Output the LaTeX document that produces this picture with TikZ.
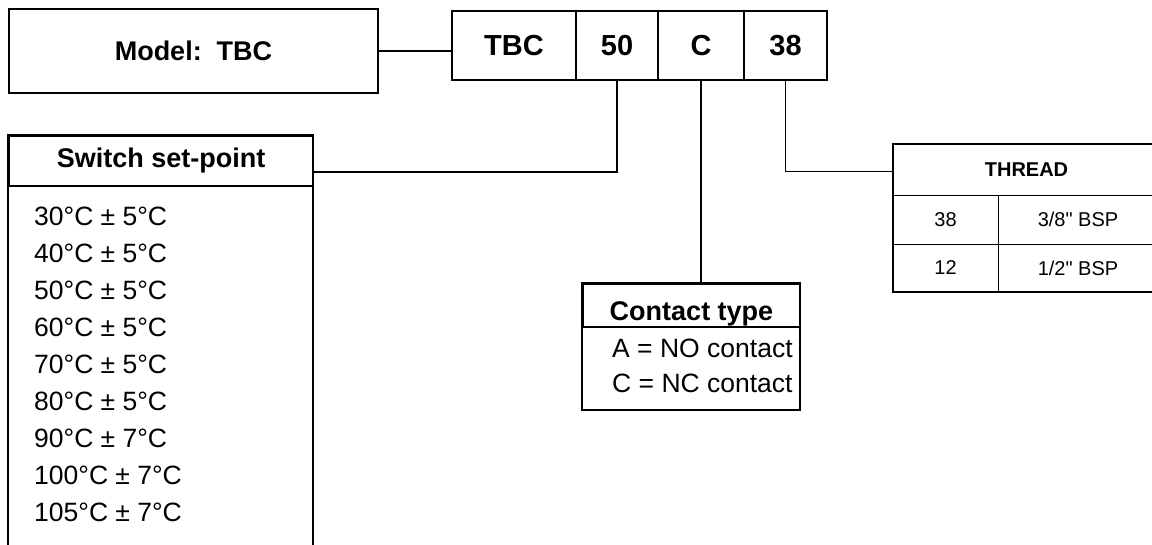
\documentclass[tikz,border=0pt]{standalone}
\usepackage{fontspec}
\setmainfont{Liberation Sans}[Ligatures=TeXOff]

\begin{document}
\begin{tikzpicture}[x=1pt,y=-1pt]
\tikzstyle{every node}=[font=\fontsize{26.5}{31}\selectfont, inner sep=0pt]
\tikzstyle{box}=[draw, line width=1.6pt]
\tikzstyle{head}=[box, font=\fontsize{27}{32}\selectfont\bfseries]
\tikzstyle{code}=[box, font=\fontsize{29}{34}\selectfont\bfseries, minimum height=69pt]
\tikzstyle{small}=[font=\fontsize{20}{24}\selectfont]
\tikzstyle{link}=[line width=1.6pt]

\useasboundingbox (0,0) rectangle (1152,544);

% model and code
\node[head, minimum width=369pt, minimum height=84pt] (model) at (193.5,51) {Model:\ \ TBC};
\node[code, minimum width=124pt] (tbc) at (514,45.5) {TBC};
\node[code, minimum width=82pt] (n50) at (617,45.5) {50};
\node[code, minimum width=86pt] (nc) at (701,45.5) {C};
\node[code, minimum width=83pt] (n38) at (785.5,45.5) {38};

% switch set-point
\node[head, minimum width=304pt, minimum height=50pt] (sphead) at (161,161) {Switch set-point};
\draw[link] (sphead.north west) rectangle (313,560);
\foreach \t [count=\i] in {{30°C ± 5°C},{40°C ± 5°C},{50°C ± 5°C},{60°C ± 5°C},{70°C ± 5°C},{80°C ± 5°C},{90°C ± 7°C},{100°C ± 7°C},{105°C ± 7°C}}
  \node[anchor=west] (sp\i) at (34,{179+37*\i}) {\t};

% contact type
\node[head, text height=30pt, text depth=0pt, minimum width=217pt, minimum height=43pt] (ctitle) at (691.5,305.5) {Contact type};
\draw[link] (ctitle.north west) rectangle (800,410);
\node[anchor=west] (ca) at (612,348) {A = NO contact};
\node[anchor=west] (cc) at (612,383) {C = NC contact};

% thread
\node[small, font=\fontsize{20}{24}\selectfont\bfseries, minimum width=267pt, minimum height=51pt] (thread) at (1026.5,169.5) {THREAD};
\draw[link] (thread.north west) rectangle (1160,292);
\draw[line width=0.8pt] (thread.south west) -- (thread.south east);
\draw[line width=0.8pt] (893,244) -- (1160,244);
\draw[line width=0.8pt] (998,195) -- (998,292);
\node[small] (k38) at (945.5,219.5) {38};
\node[small] (v38) at (1078,219.5) {3/8" BSP};
\node[small] (k12) at (945.5,268) {12};
\node[small] (v12) at (1078,268) {1/2" BSP};

% connectors
\draw[link] (model.east) -- (model.east -| tbc.west);
\draw[link] (n50.south) |- ([yshift=-11pt]sphead.east);
\draw[link] (nc.south) -- (nc.south |- ctitle.north);
\draw[link] (n38.south) |- ([yshift=-2pt]thread.west);

\end{tikzpicture}
\end{document}
